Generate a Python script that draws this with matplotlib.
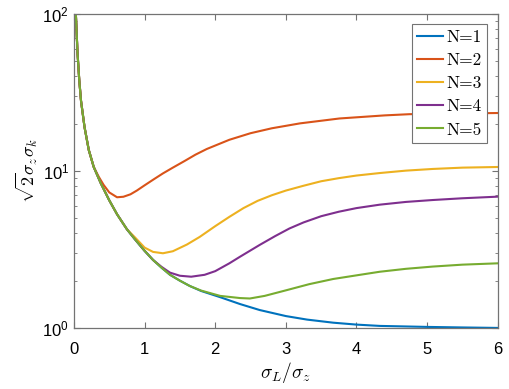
import numpy as np
import matplotlib
matplotlib.use('Agg')
from matplotlib import pyplot as plt
from matplotlib.ticker import FixedLocator, FixedFormatter, LogLocator, NullFormatter

plt.rcParams['mathtext.fontset'] = 'custom'
plt.rcParams['mathtext.rm'] = 'Liberation Sans'
plt.rcParams['mathtext.it'] = 'Liberation Sans:italic'
plt.rcParams['font.family'] = 'Liberation Sans'

# common envelope (N=1 curve)
env_x = [0.025, 0.05, 0.075, 0.1, 0.15, 0.21, 0.28, 0.38, 0.5, 0.61, 0.75, 0.87,
         1.0, 1.12, 1.24, 1.36, 1.5, 1.64, 1.8, 2.07, 2.35, 2.63, 3.0, 3.3, 3.67,
         4.0, 4.33, 5.0, 5.5, 6.0]
env_y = [105, 57, 38, 28, 19, 13.6, 10.6, 8.35, 6.5, 5.3, 4.25, 3.64,
         3.1, 2.71, 2.42, 2.18, 2.0, 1.85, 1.72, 1.57, 1.42, 1.30, 1.19, 1.13, 1.08,
         1.05, 1.03, 1.015, 1.007, 1.0]

# where each higher-N curve leaves the envelope, and its own points after that
n2_split = 7
n2_x = [0.35, 0.42, 0.5, 0.61, 0.7, 0.8, 0.89, 1.0, 1.13, 1.26, 1.4, 1.57, 1.72,
        1.88, 2.2, 2.5, 2.8, 3.2, 3.76, 4.4, 4.75, 5.3, 6.0]
n2_y = [9.2, 8.15, 7.3, 6.8, 6.85, 7.1, 7.5, 8.1, 8.85, 9.65, 10.5, 11.6, 12.7,
        13.8, 15.8, 17.4, 18.7, 20.1, 21.6, 22.6, 23.0, 23.2, 23.4]

n3_split = 11
n3_x = [0.87, 1.0, 1.12, 1.26, 1.4, 1.6, 1.78, 2.0, 2.2, 2.4, 2.6, 2.8, 3.0, 3.25,
        3.5, 3.75, 4.0, 4.33, 4.7, 5.08, 5.5, 6.0]
n3_y = [3.75, 3.25, 3.05, 2.99, 3.08, 3.4, 3.8, 4.45, 5.1, 5.8, 6.45, 7.0, 7.5, 8.05,
        8.6, 9.0, 9.35, 9.7, 10.05, 10.3, 10.5, 10.6]

n4_split = 14
n4_x = [1.24, 1.36, 1.5, 1.66, 1.85, 2.0, 2.2, 2.35, 2.63, 2.85, 3.05, 3.25, 3.5,
        3.75, 4.0, 4.33, 4.7, 5.08, 5.5, 6.0]
n4_y = [2.45, 2.25, 2.15, 2.12, 2.18, 2.3, 2.58, 2.84, 3.38, 3.85, 4.3, 4.7, 5.15,
        5.5, 5.8, 6.1, 6.35, 6.53, 6.7, 6.86]

n5_split = 18
n5_x = [1.8, 2.07, 2.35, 2.49, 2.7, 3.01, 3.33, 3.67, 4.05, 4.33, 4.7, 5.08, 5.5, 6.0]
n5_y = [1.73, 1.6, 1.55, 1.54, 1.6, 1.74, 1.9, 2.05, 2.18, 2.28, 2.38, 2.46, 2.53, 2.58]

labels = ['N=1', 'N=2', 'N=3', 'N=4', 'N=5']
colors = ['#0072BD', '#D95319', '#EDB120', '#7E2F8E', '#77AC30']


def plot():
    fig = plt.figure(figsize=(5.10, 3.89), dpi=100)
    ax = fig.add_axes([0.145, 0.157, 0.831, 0.807])

    series = [
        (env_x, env_y),
        (env_x[:n2_split] + n2_x, env_y[:n2_split] + n2_y),
        (env_x[:n3_split] + n3_x, env_y[:n3_split] + n3_y),
        (env_x[:n4_split] + n4_x, env_y[:n4_split] + n4_y),
        (env_x[:n5_split] + n5_x, env_y[:n5_split] + n5_y),
    ]
    for (x, y), lab, c in zip(series, labels, colors):
        ax.plot(x, y, color=c, linewidth=1.5, label=lab)

    ax.set_yscale('log')
    ax.set_xlim(0, 6)
    ax.set_ylim(1, 100)
    ax.xaxis.set_major_locator(FixedLocator([0, 1, 2, 3, 4, 5, 6]))
    ax.yaxis.set_major_locator(FixedLocator([1, 10, 100]))
    ax.yaxis.set_major_formatter(FixedFormatter([r'$10^{0}$', r'$10^{1}$', r'$10^{2}$']))
    ax.yaxis.set_minor_locator(LogLocator(base=10, subs=np.arange(2, 10)))
    ax.yaxis.set_minor_formatter(NullFormatter())

    for s in ax.spines.values():
        s.set_color('0.45')
        s.set_linewidth(0.9)
    ax.tick_params(which='both', direction='in', top=True, right=True,
                   color='0.45', labelsize=12, labelcolor='black')
    ax.tick_params(which='major', length=4)
    ax.tick_params(which='minor', length=2.5)
    ax.tick_params(axis='x', pad=10)

    ax.set_xlabel(r'$\sigma_L/\sigma_z$', fontsize=14, math_fontfamily='cm', labelpad=2)
    ax.set_ylabel(r'$\sqrt{2}\sigma_z\sigma_k$', fontsize=13, math_fontfamily='cm', labelpad=2)

    leg = ax.legend(loc='upper right', prop={'family': 'cmr10', 'size': 12.5},
                    handlelength=1.5, labelspacing=0.45, borderpad=0.3,
                    handletextpad=0.2, fancybox=False, framealpha=1,
                    edgecolor='0.45', borderaxespad=0.6)
    leg.get_frame().set_linewidth(0.8)

    fig.savefig('out.png', dpi=100)


def main():
    plot()


if __name__ == '__main__':
    main()
